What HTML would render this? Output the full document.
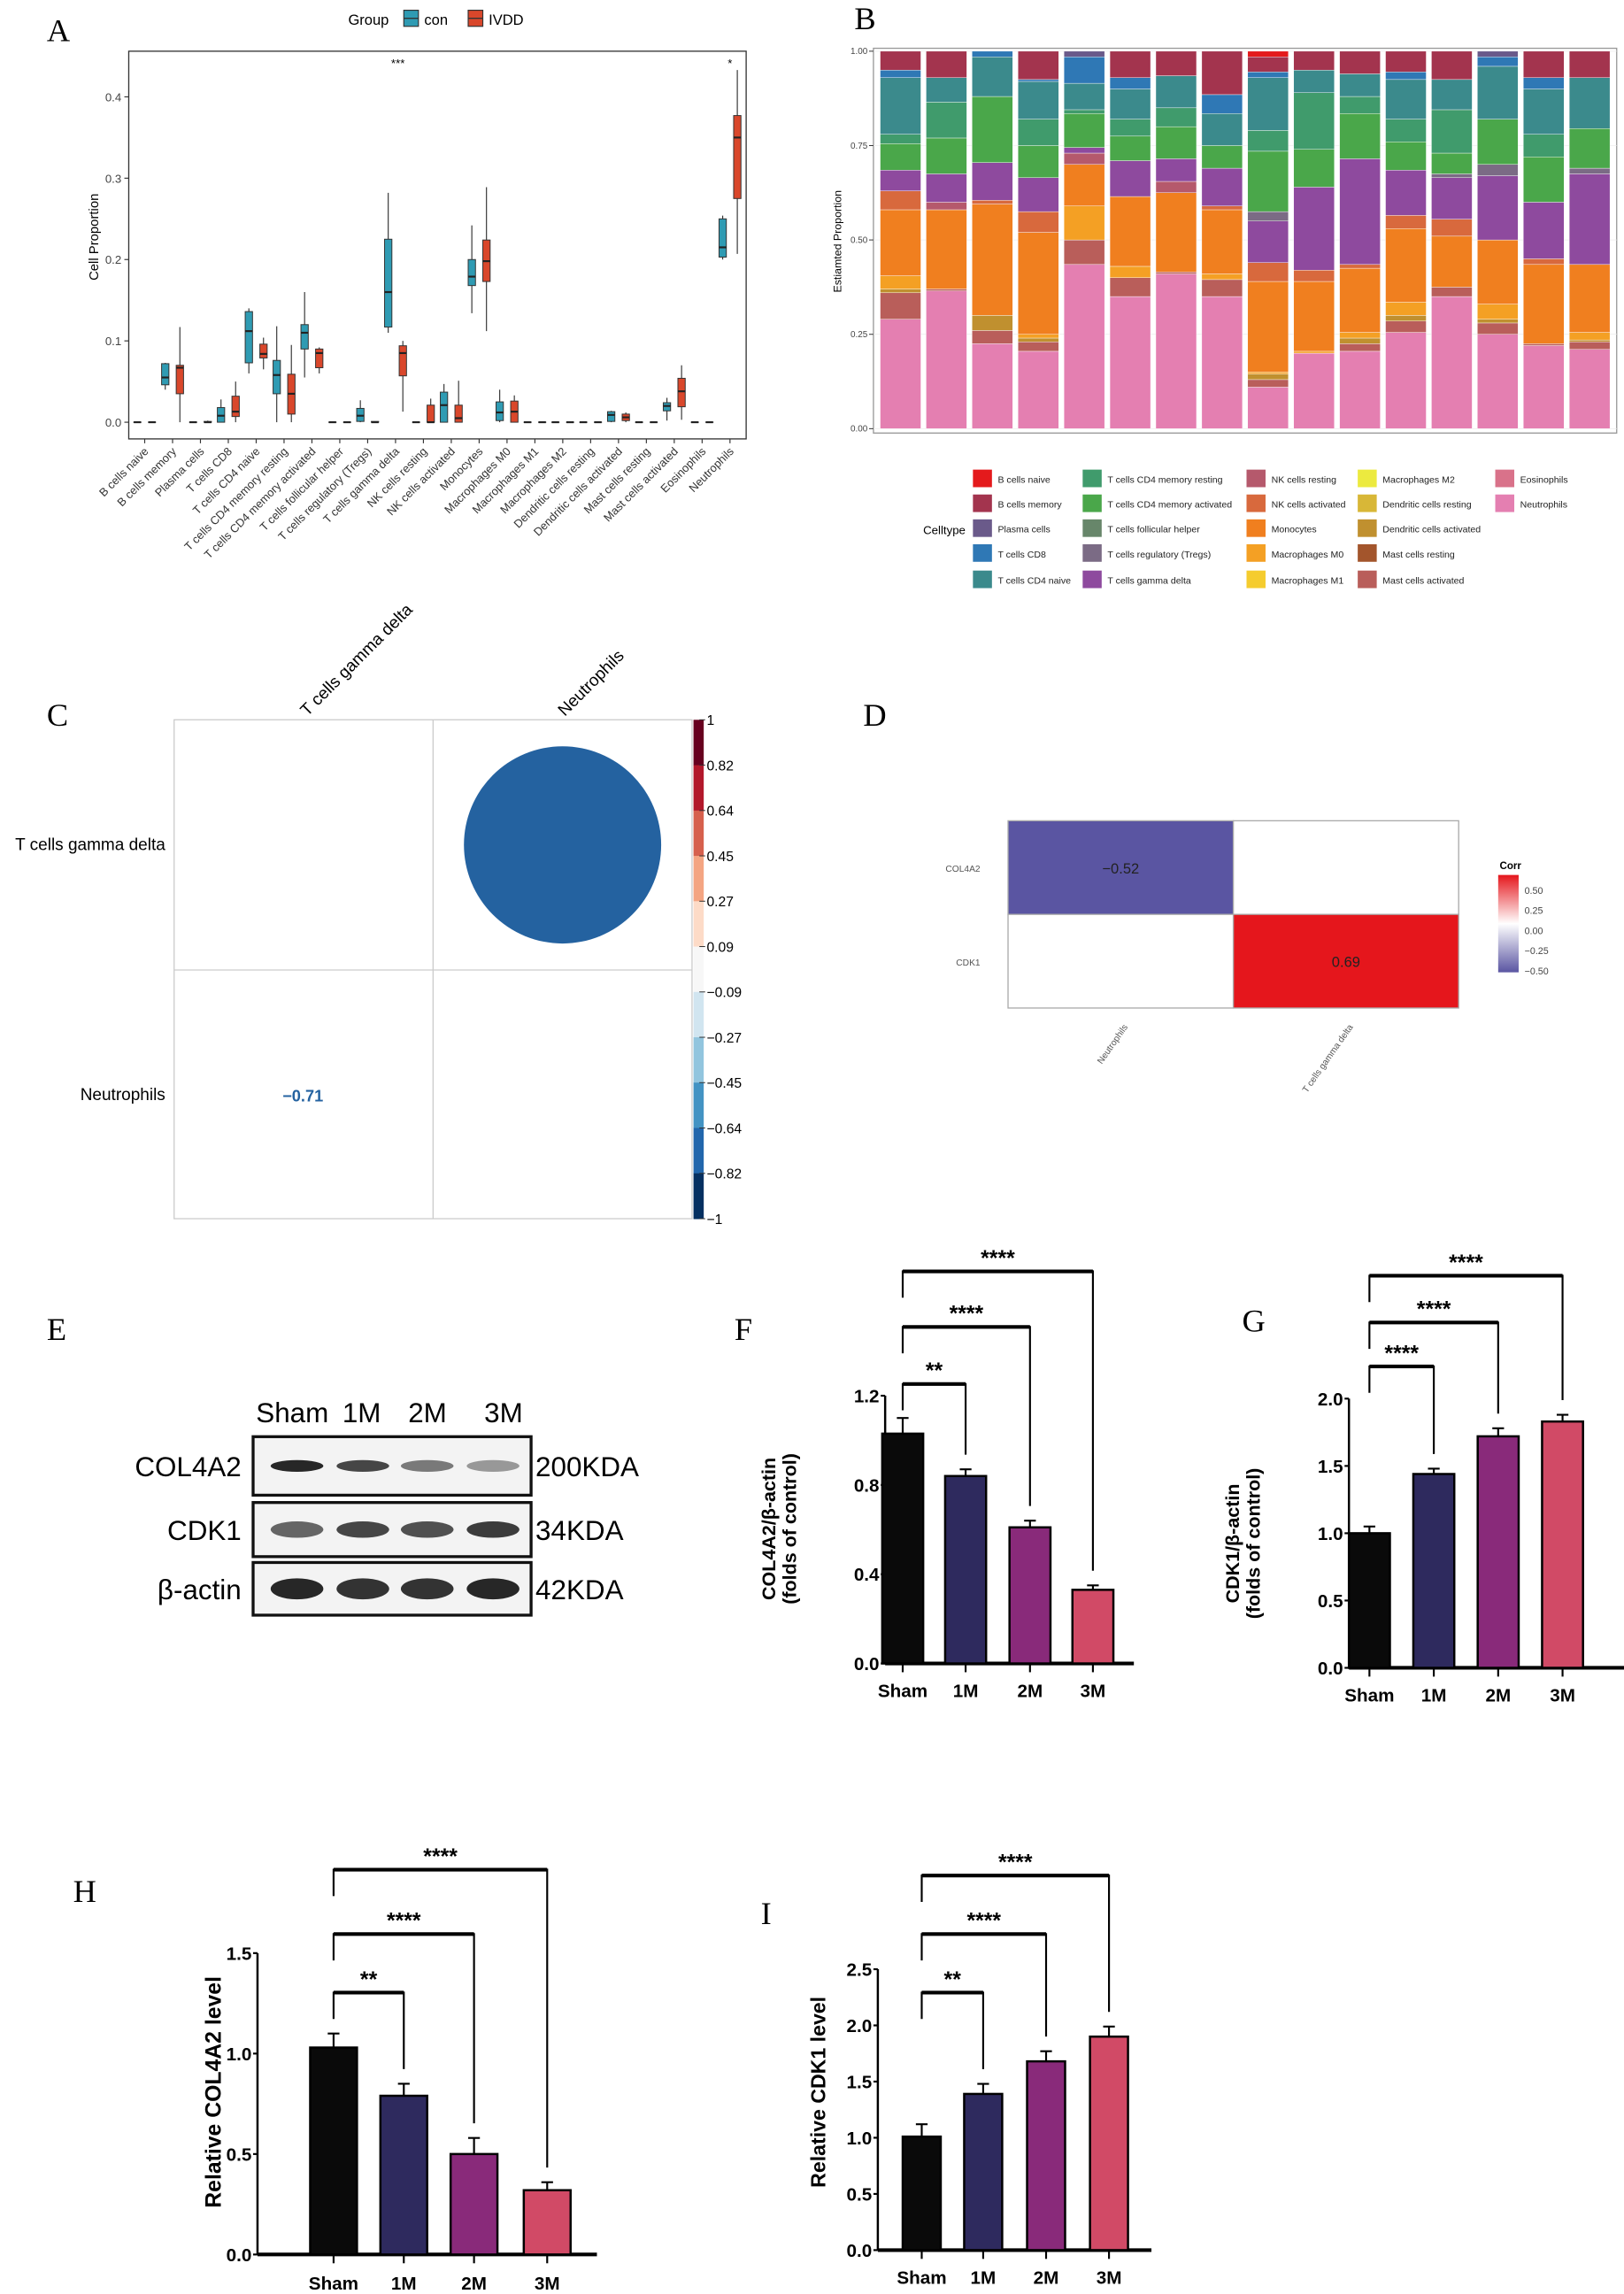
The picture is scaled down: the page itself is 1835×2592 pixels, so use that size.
<!DOCTYPE html>
<html><head><meta charset="utf-8">
<style>
html,body{margin:0;padding:0;background:#fff;}
svg{display:block;font-family:"Liberation Sans",sans-serif;}
.lbl{font-family:"Liberation Serif",serif;font-size:22px;}
</style></head>
<body>
<svg id="fig" width="1835" height="2592" viewBox="0 0 1110 1568" preserveAspectRatio="none" xmlns="http://www.w3.org/2000/svg">
<rect width="1110" height="1568" fill="#fff"/>
<g id="gA"></g>
<g id="gB"></g>
<g id="gC"></g>
<g id="gD"></g>
<g id="gE"></g>
<g id="gF"></g>
<g id="gG"></g>
<g id="gH"></g>
<g id="gI"></g>
</svg>
<script>
// ---------- Panel A data ----------
const cellTypesA = ["B cells naive","B cells memory","Plasma cells","T cells CD8","T cells CD4 naive","T cells CD4 memory resting","T cells CD4 memory activated","T cells follicular helper","T cells regulatory (Tregs)","T cells gamma delta","NK cells resting","NK cells activated","Monocytes","Macrophages M0","Macrophages M1","Macrophages M2","Dendritic cells resting","Dendritic cells activated","Mast cells resting","Mast cells activated","Eosinophils","Neutrophils"];
const conBoxes = [[0,0,0,0,0],[.04,.046,.055,.072,.073],[0,0,0,0,0],[0,0,.008,.018,.028],[.06,.073,.112,.136,.14],[0,.035,.058,.076,.118],[.055,.09,.11,.12,.16],[0,0,0,0,0],[0,.001,.008,.017,.027],[.11,.117,.16,.225,.282],[0,0,0,0,0],[0,0,.021,.037,.047],[.134,.168,.179,.2,.242],[0,.002,.012,.025,.04],[0,0,0,0,0],[0,0,0,0,0],[0,0,0,0,0],[0,.001,.009,.013,.014],[0,0,0,0,0],[.002,.014,.02,.024,.03],[0,0,0,0,0],[.2,.203,.215,.25,.254]];
const ivddBoxes = [[0,0,0,0,0],[0,.035,.067,.07,.117],[0,0,0,.001,.002],[0,.007,.013,.032,.05],[.065,.079,.084,.096,.104],[0,.01,.035,.059,.095],[.06,.067,.085,.09,.092],[0,0,0,0,0],[0,0,0,.001,.001],[.013,.057,.085,.094,.1],[0,0,0,.021,.029],[0,0,.005,.021,.051],[.112,.173,.198,.224,.289],[0,0,.013,.026,.033],[0,0,0,0,0],[0,0,0,0,0],[0,0,0,0,0],[0,.002,.006,.01,.012],[0,0,0,0,0],[.003,.019,.038,.054,.07],[0,0,0,0,0],[.207,.275,.35,.377,.433]];
const ticksA = [0,0.1,0.2,0.3,0.4];
const tickLabelsA = ["0.0","0.1","0.2","0.3","0.4"];

// ---------- Panel B data ----------
const cellTypesB = ["B cells naive","B cells memory","Plasma cells","T cells CD8","T cells CD4 naive","T cells CD4 memory resting","T cells CD4 memory activated","T cells follicular helper","T cells regulatory (Tregs)","T cells gamma delta","NK cells resting","NK cells activated","Monocytes","Macrophages M0","Macrophages M1","Macrophages M2","Dendritic cells resting","Dendritic cells activated","Mast cells resting","Mast cells activated","Eosinophils","Neutrophils"];
const cellColorsB = ["#e41a1c","#a3344e","#6a5a8a","#2f78b5","#3b8a8c","#409b6c","#4aa74a","#67866a","#7b6b85","#8e4a9e","#b5596c","#d8693d","#f07f1f","#f4a024","#f5cc2e","#ecea3f","#d8b737","#c0902f","#a3552c","#b95e5a","#d9728a","#e47fb1"];
// each sample: [celltype index, cumulative top] from bottom
const sampleStacks = [
 [[21,.29],[19,.36],[17,.37],[13,.405],[12,.58],[11,.63],[9,.685],[6,.755],[5,.78],[4,.93],[3,.95],[1,1]],
 [[21,.365],[19,.37],[12,.58],[10,.6],[9,.675],[6,.77],[5,.865],[4,.93],[1,1]],
 [[21,.225],[19,.26],[17,.30],[12,.595],[11,.605],[9,.705],[6,.88],[4,.985],[3,1]],
 [[21,.205],[19,.23],[17,.24],[13,.25],[12,.52],[11,.575],[9,.665],[6,.75],[5,.82],[4,.92],[3,.925],[1,1]],
 [[21,.435],[19,.50],[13,.59],[12,.70],[10,.73],[9,.745],[6,.835],[5,.845],[4,.915],[3,.985],[2,1]],
 [[21,.35],[19,.40],[13,.43],[12,.615],[9,.71],[6,.775],[5,.82],[4,.90],[3,.93],[1,1]],
 [[21,.41],[19,.415],[12,.625],[10,.655],[9,.715],[6,.80],[5,.85],[4,.935],[1,1]],
 [[21,.35],[19,.395],[13,.41],[12,.58],[11,.59],[9,.69],[6,.75],[4,.835],[3,.885],[1,1]],
 [[21,.11],[19,.13],[17,.145],[13,.15],[12,.39],[11,.44],[9,.55],[8,.575],[6,.735],[5,.79],[4,.93],[3,.945],[1,.985],[0,1]],
 [[21,.20],[13,.205],[12,.39],[11,.42],[9,.64],[6,.74],[5,.89],[4,.95],[1,1]],
 [[21,.205],[19,.225],[17,.24],[13,.255],[12,.425],[11,.435],[9,.715],[6,.835],[5,.88],[4,.94],[1,1]],
 [[21,.255],[19,.285],[17,.30],[13,.335],[12,.53],[11,.565],[9,.685],[6,.76],[5,.82],[4,.925],[3,.945],[1,1]],
 [[21,.35],[19,.375],[12,.51],[11,.555],[9,.665],[8,.675],[6,.73],[5,.845],[4,.925],[1,1]],
 [[21,.25],[19,.28],[17,.29],[13,.33],[12,.50],[9,.67],[8,.70],[6,.82],[4,.96],[3,.985],[2,1]],
 [[21,.22],[19,.225],[12,.435],[11,.45],[9,.60],[6,.72],[5,.78],[4,.90],[3,.93],[1,1]],
 [[21,.21],[19,.23],[17,.235],[13,.255],[12,.435],[9,.675],[8,.69],[6,.795],[4,.93],[1,1]]
];
const ticksB = [0,0.25,0.5,0.75,1];
const tickLabelsB = ["0.00","0.25","0.50","0.75","1.00"];

// ---------- Panel C/D data ----------
const corrCLabels = ["T cells gamma delta","Neutrophils"];
const corrCValue = -0.71;
const corrCTicks = ["1","0.82","0.64","0.45","0.27","0.09","-0.09","-0.27","-0.45","-0.64","-0.82","-1"];
const heatRows = ["COL4A2","CDK1"];
const heatCols = ["Neutrophils","T cells gamma delta"];
const heatValues = [[-0.52,null],[null,0.69]];
const heatTicks = [0.5,0.25,0,-0.25,-0.5];
const heatTickLabels = ["0.50","0.25","0.00","\u22120.25","\u22120.50"];

// ---------- Bar chart data ----------
const groups = ["Sham","1M","2M","3M"];
const barColors = ["#0a0a0a","#2e2a5e","#892a7a","#d14a66"];
const fMeans = [1.03,0.84,0.61,0.33];
const fErr = [0.07,0.03,0.03,0.02];
const gMeans = [1.0,1.44,1.72,1.83];
const gErr = [0.05,0.04,0.06,0.05];
const hMeans = [1.03,0.79,0.50,0.32];
const hErr = [0.07,0.06,0.08,0.04];
const iMeans = [1.01,1.39,1.68,1.90];
const iErr = [0.11,0.09,0.09,0.09];
const sigLabels = ["**","****","****"];
const gSigLabels = ["****","****","****"];

const NS = "http://www.w3.org/2000/svg";
function mk(parent, tag, attrs, text){
  const e = document.createElementNS(NS, tag);
  for (const k in attrs) e.setAttribute(k, attrs[k]);
  if (text !== undefined) e.textContent = text;
  parent.appendChild(e);
  return e;
}

// ================= Panel A =================
(function(){
  const g = document.getElementById('gA');
  const x0 = 88, x1 = 510, yT = 35, yB = 300;
  const y = v => 288.6 - v * (288.6 - 66.2) / 0.4;
  const cx = i => 98.9 + i * 19.05;
  let t = mk(g,'text',{x:32,y:28,class:'lbl'},'A');
   
  // legend
  t = mk(g,'text',{x:238,y:17,'font-size':10},'Group');
   
  [['con','#2f9bb3',276],['IVDD','#d9472b',320]].forEach(([n,c,lx])=>{
    const r = mk(g,'rect',{x:lx,y:7,width:10,height:11,fill:c,stroke:'#333','stroke-width':0.7});
     
    mk(g,'line',{x1:lx,x2:lx+10,y1:12.5,y2:12.5,stroke:'#333','stroke-width':0.8});
    const tt = mk(g,'text',{x:lx+14,y:17,'font-size':10},n);
     
  });
  const fr = mk(g,'rect',{x:x0,y:yT,width:x1-x0,height:yB-yT,fill:'none',stroke:'#333','stroke-width':0.8});
   
  ticksA.forEach((v,i)=>{
    mk(g,'line',{x1:x0-3,x2:x0,y1:y(v),y2:y(v),stroke:'#333','stroke-width':0.7});
    const tl = mk(g,'text',{x:x0-5,y:y(v)+3,'font-size':8,'text-anchor':'end',fill:'#444'},tickLabelsA[i]);
     
  });
  t = mk(g,'text',{x:0,y:0,'font-size':9,'text-anchor':'middle',transform:'translate(67,162) rotate(-90)'},'Cell Proportion');
   
  cellTypesA.forEach((name,i)=>{
    const c = cx(i);
    mk(g,'line',{x1:c,x2:c,y1:yB,y2:yB+3,stroke:'#333','stroke-width':0.7});
    const tl = mk(g,'text',{x:0,y:0,'font-size':7.8,'text-anchor':'end',fill:'#333',transform:`translate(${c+3},${yB+9}) rotate(-45)`},name);
     
    [[conBoxes[i],'#2f9bb3',-5],[ivddBoxes[i],'#d9472b',5]].forEach(([b,col,off])=>{
      const bx = c + off, w = 5;
      const gg = mk(g,'g',{});
      
      
      mk(gg,'line',{x1:bx,x2:bx,y1:y(b[0]),y2:y(b[4]),stroke:'#333','stroke-width':0.7});
      mk(gg,'rect',{x:bx-w/2,y:y(b[3]),width:w,height:Math.max(y(b[1])-y(b[3]),0.01),fill:col,stroke:'#333','stroke-width':0.6});
      mk(gg,'line',{x1:bx-w/2,x2:bx+w/2,y1:y(b[2]),y2:y(b[2]),stroke:'#222','stroke-width':1.3});
    });
  });
  t = mk(g,'text',{x:272,y:46,'font-size':8,'text-anchor':'middle'},'***');
   
  t = mk(g,'text',{x:cx(21),y:46,'font-size':8,'text-anchor':'middle'},'*');
   
})();

// ================= Panel B =================
(function(){
  const g = document.getElementById('gB');
  const y = v => 293 - v * 258;
  const bx = i => 601.6 + i * 31.4;
  const bw = 27.8;
  let t = mk(g,'text',{x:584,y:20,class:'lbl'},'B');
   
  const fr = mk(g,'rect',{x:597,y:33,width:508,height:263,fill:'#fff',stroke:'#999','stroke-width':0.8});
   
  ticksB.forEach((v,i)=>{
    mk(g,'line',{x1:597,x2:1105,y1:y(v),y2:y(v),stroke:'#eee','stroke-width':0.5});
    mk(g,'line',{x1:594,x2:597,y1:y(v),y2:y(v),stroke:'#333','stroke-width':0.6});
    const tl = mk(g,'text',{x:593,y:y(v)+2,'font-size':6,'text-anchor':'end',fill:'#444'},tickLabelsB[i]);
     
  });
  t = mk(g,'text',{x:0,y:0,'font-size':7.5,'text-anchor':'middle',transform:'translate(575,165) rotate(-90)'},'Estiamted Proportion');
   
  sampleStacks.forEach((stack,i)=>{
    let prev = 0;
    stack.forEach(([ti,top])=>{
      const r = mk(g,'rect',{x:bx(i),y:y(top),width:bw,height:y(prev)-y(top),fill:cellColorsB[ti],stroke:'#fff','stroke-width':0.25});
       
      prev = top;
    });
  });
  // legend
  t = mk(g,'text',{x:631,y:365,'font-size':8},'Celltype');
   
  const colX = [665,740,852,928,1022];
  const rowY = [321,338,355,372,390];
  cellTypesB.forEach((name,k)=>{
    const col = Math.floor(k/5), row = k%5;
    const r = mk(g,'rect',{x:colX[col],y:rowY[row],width:13,height:12,fill:cellColorsB[k]});
     
    const tl = mk(g,'text',{x:colX[col]+17,y:rowY[row]+9,'font-size':6.4,fill:'#222'},name);
     
  });
})();

// ================= Panel C =================
(function(){
  const g = document.getElementById('gC');
  let t = mk(g,'text',{x:32,y:496,class:'lbl'},'C');
   
  const fr = mk(g,'rect',{x:119,y:492,width:354,height:341,fill:'#fff',stroke:'#ccc','stroke-width':0.8});
   
  mk(g,'line',{x1:296,x2:296,y1:492,y2:833,stroke:'#ccc','stroke-width':0.8});
  mk(g,'line',{x1:119,x2:473,y1:663,y2:663,stroke:'#ccc','stroke-width':0.8});
  const rad = Math.sqrt(Math.abs(corrCValue)) * 80;
  const c = mk(g,'ellipse',{cx:384.5,cy:577.5,rx:rad,ry:rad,fill:'#2462a0'});
   
  t = mk(g,'text',{x:207,y:753,'font-size':11,'font-weight':'bold',fill:'#2462a0','text-anchor':'middle'},corrCValue.toFixed(2).replace('-','\u2212'));
   
  t = mk(g,'text',{x:113,y:581,'font-size':11.5,'text-anchor':'end'},corrCLabels[0]);
   
  t = mk(g,'text',{x:113,y:752,'font-size':11.5,'text-anchor':'end'},corrCLabels[1]);
   
  t = mk(g,'text',{x:0,y:0,'font-size':11.5,transform:'translate(210,490) rotate(-45)'},corrCLabels[0]);
   
  t = mk(g,'text',{x:0,y:0,'font-size':11.5,transform:'translate(386,490) rotate(-45)'},corrCLabels[1]);
   
  const cbCols = ["#67001f","#b2182b","#d6604d","#f4a582","#fddbc7","#f7f7f7","#d1e5f0","#92c5de","#4393c3","#2166ac","#053061"];
  const segH = 341/11;
  cbCols.forEach((col,k)=>{
    const r = mk(g,'rect',{x:474,y:492+k*segH,width:7,height:segH+0.3,fill:col});
     
  });
  corrCTicks.forEach((lab,k)=>{
    const yy = 492 + k*31;
    mk(g,'line',{x1:478,x2:482,y1:yy,y2:yy,stroke:'#333','stroke-width':0.6});
    const tl = mk(g,'text',{x:483,y:yy+3.5,'font-size':9.5},lab.replace('-','\u2212'));
     
  });
})();

// ================= Panel D =================
(function(){
  const g = document.getElementById('gD');
  let t = mk(g,'text',{x:590,y:496,class:'lbl'},'D');
   
  const x0 = 689, y0 = 561, cw = 154, ch = 64;
  const colorFor = v => v < 0 ? '#5a55a2' : '#e5161c';
  heatRows.forEach((rn,r)=>{
    const tl = mk(g,'text',{x:670,y:y0+r*ch+35,'font-size':6.2,'text-anchor':'end',fill:'#555'},rn);
     
    heatCols.forEach((cn,c)=>{
      const v = heatValues[r][c];
      const rc = mk(g,'rect',{x:x0+c*cw,y:y0+r*ch,width:cw,height:ch,fill: v===null?'#fff':colorFor(v),stroke:'#aaa','stroke-width':0.8});
       
      if (v!==null){
        const vt = mk(g,'text',{x:x0+c*cw+cw/2,y:y0+r*ch+ch/2+4,'font-size':10,'text-anchor':'middle',fill:'#222'},v.toFixed(2).replace('-','\u2212'));
         
      }
    });
  });
  heatCols.forEach((cn,c)=>{
    const tl = mk(g,'text',{x:0,y:0,'font-size':6.2,'text-anchor':'end',fill:'#555',transform:`translate(${x0+c*cw+cw/2+5},${y0+2*ch+13}) rotate(-55)`},cn);
     
  });
  t = mk(g,'text',{x:1025,y:594,'font-size':7,'font-weight':'bold'},'Corr');
   
  const defs = mk(g,'defs',{});
  const lg = mk(defs,'linearGradient',{id:'corrGrad',x1:0,y1:0,x2:0,y2:1});
  mk(lg,'stop',{offset:'0','stop-color':'#e5161c'});
  mk(lg,'stop',{offset:'0.5','stop-color':'#ffffff'});
  mk(lg,'stop',{offset:'1','stop-color':'#5a55a2'});
  const yv = v => 636 - v*55;
  const cb = mk(g,'rect',{x:1024,y:yv(0.69),width:14,height:yv(-0.52)-yv(0.69),fill:'url(#corrGrad)'});
   
  heatTicks.forEach((v,k)=>{
    const tl = mk(g,'text',{x:1042,y:yv(v)+2.5,'font-size':6.5,fill:'#444'},heatTickLabels[k]);
     
  });
})();

// ================= Panel E =================
(function(){
  const g = document.getElementById('gE');
  let t = mk(g,'text',{x:32,y:916,class:'lbl'},'E');
   
  const heads = [["Sham",175],["1M",234],["2M",279],["3M",331]];
  heads.forEach(([h,x])=>{
    const tl = mk(g,'text',{x:x,y:972,'font-size':19},h);
     
  });
  const blots = [["COL4A2","200KDA",982,40,[1,0.85,0.6,0.45],5],["CDK1","34KDA",1027,37,[0.7,0.85,0.8,0.9],7],["\u03b2-actin","42KDA",1068,36,[1,0.95,0.95,1],9]];
  const laneX = [203,248,292,337];
  blots.forEach(([name,kda,by,bh,ints,th])=>{
    const gg = mk(g,'g',{});
    
    
    mk(gg,'rect',{x:173,y:by,width:190,height:bh,fill:'#f3f3f3',stroke:'#111','stroke-width':2});
    ints.forEach((a,k)=>{
      mk(gg,'ellipse',{cx:laneX[k],cy:by+bh/2,rx:18,ry:th*0.8,fill:'#111','fill-opacity':a*0.9});
    });
    const tl = mk(g,'text',{x:165,y:by+bh/2+7,'font-size':19,'text-anchor':'end'},name);
     
    const kl = mk(g,'text',{x:366,y:by+bh/2+7,'font-size':19},kda);
     
  });
})();

// ================= Bar charts =================
function barChart(cfg){
  const g = document.getElementById(cfg.id);
  let t = mk(g,'text',{x:cfg.labelPos[0],y:cfg.labelPos[1],class:'lbl'},cfg.letter);
   
  const y = v => cfg.y0 - v * (cfg.y0 - cfg.yTop) / cfg.yMax;
  // axes
  mk(g,'line',{x1:cfg.ax,x2:cfg.ax,y1:y(cfg.yMax),y2:cfg.y0,stroke:'#000','stroke-width':1.5});
  const xa = mk(g,'line',{x1:cfg.ax,x2:cfg.axEnd,y1:cfg.y0,y2:cfg.y0,stroke:'#000','stroke-width':2.5});
   
  cfg.ticks.forEach(v=>{
    mk(g,'line',{x1:cfg.ax-3,x2:cfg.ax,y1:y(v),y2:y(v),stroke:'#000','stroke-width':1.3});
    const tl = mk(g,'text',{x:cfg.ax-4,y:y(v)+4.5,'font-size':12.5,'font-weight':'bold','text-anchor':'end'},v.toFixed(1));
     
  });
  cfg.means.forEach((m,i)=>{
    const cx = cfg.cx[i];
    const r = mk(g,'rect',{x:cx-cfg.bw/2,y:y(m),width:cfg.bw,height:cfg.y0-y(m),fill:cfg.colors[i],stroke:'#000','stroke-width':1.5});
     
    const e = mk(g,'path',{d:`M${cx},${y(m)} V${y(m+cfg.err[i])} M${cx-4},${y(m+cfg.err[i])} H${cx+4}`,stroke:'#000','stroke-width':1.3,fill:'none'});
     
    mk(g,'line',{x1:cx,x2:cx,y1:cfg.y0,y2:cfg.y0+6,stroke:'#000','stroke-width':1.3});
    const tl = mk(g,'text',{x:cx,y:cfg.xLabY,'font-size':12.5,'font-weight':'bold','text-anchor':'middle'},groups[i]);
     
  });
  cfg.brackets.forEach((by,k)=>{
    const j = k+1;
    const leftBottom = by + 18;
    const rightBottom = y(cfg.means[j]+cfg.err[j]) - 10;
    const b = mk(g,'path',{d:`M${cfg.cx[0]},${leftBottom} V${by} H${cfg.cx[j]} V${rightBottom}`,stroke:'#000','stroke-width':1.3,fill:'none'});
     
    mk(g,'line',{x1:cfg.cx[0],x2:cfg.cx[j],y1:by,y2:by,stroke:'#000','stroke-width':2.5});
    const st = mk(g,'text',{x:(cfg.cx[0]+cfg.cx[j])/2,y:by-4,'font-size':15,'font-weight':'bold','text-anchor':'middle'},cfg.sig[k]);
     
  });
  cfg.title.forEach((line,k)=>{
    const tl = mk(g,'text',{x:0,y:0,'font-size':cfg.titleSize,'font-weight':'bold','text-anchor':'middle',transform:`translate(${cfg.titleX + k*14},${cfg.titleY}) rotate(-90)`},line);
     
  });
}
barChart({id:'gF',letter:'F',labelPos:[502,916],ax:605,axEnd:775,y0:1137,yTop:954,yMax:1.2,ticks:[0,0.4,0.8,1.2],
  means:fMeans,err:fErr,cx:[617,660,704,747],bw:28,colors:barColors,xLabY:1160,brackets:[946,907,869],sig:sigLabels,
  title:["COL4A2/\u03b2-actin","(folds of control)"],titleX:530,titleY:1045,titleSize:13});
barChart({id:'gG',letter:'G',labelPos:[849,910],ax:922,axEnd:1110,y0:1140,yTop:956,yMax:2.0,ticks:[0,0.5,1.0,1.5,2.0],
  means:gMeans,err:gErr,cx:[936,980,1024,1068],bw:28,colors:barColors,xLabY:1163,brackets:[934,904,872],sig:gSigLabels,
  title:["CDK1/\u03b2-actin","(folds of control)"],titleX:847,titleY:1055,titleSize:13});
barChart({id:'gH',letter:'H',labelPos:[50,1300],ax:176,axEnd:408,y0:1541,yTop:1335,yMax:1.5,ticks:[0,0.5,1.0,1.5],
  means:hMeans,err:hErr,cx:[228,276,324,374],bw:32,colors:barColors,xLabY:1565,brackets:[1362,1322,1278],sig:sigLabels,
  title:["Relative COL4A2 level"],titleX:151,titleY:1430,titleSize:15});
barChart({id:'gI',letter:'I',labelPos:[520,1315],ax:600,axEnd:787,y0:1538,yTop:1346,yMax:2.5,ticks:[0,0.5,1.0,1.5,2.0,2.5],
  means:iMeans,err:iErr,cx:[630,672,715,758],bw:26,colors:barColors,xLabY:1561,brackets:[1362,1322,1282],sig:sigLabels,
  title:["Relative CDK1 level"],titleX:564,titleY:1430,titleSize:14});
</script>
</body></html>
